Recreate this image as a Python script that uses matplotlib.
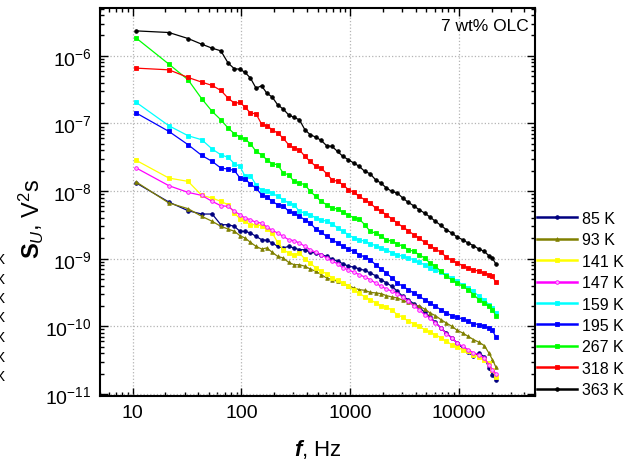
import numpy as np
import matplotlib
matplotlib.use("Agg")
import matplotlib.pyplot as plt
from matplotlib.ticker import FixedLocator, FuncFormatter, LogLocator, NullFormatter

plt.rcParams["font.family"] = ["Liberation Sans", "DejaVu Sans"]
plt.rcParams["mathtext.fontset"] = "custom"
plt.rcParams["mathtext.rm"] = "Liberation Sans"
plt.rcParams["mathtext.it"] = "Liberation Sans:italic"
plt.rcParams["mathtext.bf"] = "Liberation Sans:bold"
plt.rcParams["mathtext.bfit"] = "Liberation Sans:bold:italic"
plt.rcParams["axes.unicode_minus"] = False

# frequency grid, Hz
freq = [10.8, 21.5, 32.3, 43.1, 53.8, 64.6, 75.4, 86.1, 96.9,
        108, 121, 136, 153, 171, 192, 215, 242, 271, 304,
        341, 383, 429, 482, 541, 607, 681, 764, 857, 962,
        1079, 1211, 1359, 1524, 1710, 1919, 2153, 2416, 2711, 3042,
        3413, 3829, 4297, 4821, 5409, 6069, 6810, 7640, 8573, 9619,
        10790, 12110, 13590, 15240, 17100, 18800, 20300, 21800]

# log10 of the noise spectral density, V^2 s
log_85 = [-7.882, -8.163, -8.291, -8.340, -8.340, -8.498, -8.498, -8.522, -8.596,
          -8.596, -8.621, -8.670, -8.719, -8.729, -8.768, -8.818, -8.842, -8.818, -8.842,
          -8.867, -8.867, -8.906, -8.916, -8.941, -8.966, -9.005, -9.039, -9.074, -9.113,
          -9.123, -9.153, -9.172, -9.212, -9.251, -9.310, -9.360, -9.409, -9.483, -9.557,
          -9.606, -9.665, -9.714, -9.793, -9.862, -9.941, -10.025, -10.099, -10.172, -10.246,
          -10.320, -10.384, -10.443, -10.394, -10.453, -10.616, -10.714, -10.798]
log_93 = [-7.867, -8.177, -8.261, -8.374, -8.448, -8.522, -8.562, -8.596, -8.660,
          -8.695, -8.759, -8.818, -8.857, -8.842, -8.906, -8.966, -8.990, -9.054, -9.089,
          -9.089, -9.113, -9.153, -9.187, -9.236, -9.286, -9.310, -9.335, -9.360, -9.399,
          -9.433, -9.458, -9.468, -9.498, -9.507, -9.517, -9.547, -9.567, -9.581, -9.616,
          -9.645, -9.680, -9.704, -9.744, -9.803, -9.842, -9.901, -9.951, -10.000, -10.059,
          -10.099, -10.148, -10.197, -10.236, -10.286, -10.394, -10.493, -10.601]
log_141 = [-7.547, -7.808, -7.857, -8.064, -8.103, -8.153, -8.202, -8.325, -8.414,
           -8.448, -8.498, -8.498, -8.512, -8.562, -8.621, -8.759, -8.867, -8.916, -8.941,
           -8.916, -9.005, -9.064, -9.138, -9.187, -9.222, -9.286, -9.320, -9.360, -9.409,
           -9.468, -9.507, -9.567, -9.606, -9.655, -9.695, -9.714, -9.764, -9.828, -9.867,
           -9.926, -9.961, -10.000, -10.049, -10.089, -10.123, -10.172, -10.222, -10.271, -10.310,
           -10.345, -10.369, -10.419, -10.453, -10.502, -10.542, -10.640, -10.749]
log_147 = [-7.660, -7.921, -8.020, -8.064, -8.153, -8.217, -8.227, -8.300, -8.350,
           -8.399, -8.424, -8.463, -8.473, -8.532, -8.581, -8.621, -8.670, -8.719, -8.734,
           -8.768, -8.818, -8.867, -8.906, -8.941, -8.990, -9.039, -9.074, -9.138, -9.163,
           -9.202, -9.236, -9.271, -9.310, -9.360, -9.409, -9.448, -9.483, -9.517, -9.567,
           -9.631, -9.695, -9.754, -9.828, -9.877, -9.951, -10.025, -10.108, -10.172, -10.246,
           -10.296, -10.345, -10.394, -10.419, -10.468, -10.567, -10.640, -10.700]
log_159 = [-6.690, -7.034, -7.182, -7.241, -7.379, -7.463, -7.502, -7.596, -7.635,
           -7.783, -7.773, -7.906, -7.990, -8.005, -8.030, -8.079, -8.128, -8.177, -8.202,
           -8.300, -8.325, -8.350, -8.399, -8.424, -8.448, -8.483, -8.547, -8.596, -8.645,
           -8.695, -8.719, -8.744, -8.778, -8.808, -8.842, -8.867, -8.916, -8.941, -8.966,
           -8.990, -9.015, -9.054, -9.089, -9.138, -9.163, -9.202, -9.236, -9.286, -9.335,
           -9.384, -9.433, -9.483, -9.557, -9.606, -9.680, -9.729, -9.803]
log_195 = [-6.847, -7.118, -7.315, -7.473, -7.562, -7.660, -7.675, -7.695, -7.808,
           -7.823, -7.897, -7.956, -8.054, -8.089, -8.153, -8.202, -8.217, -8.300, -8.325,
           -8.374, -8.424, -8.473, -8.562, -8.611, -8.670, -8.719, -8.768, -8.818, -8.857,
           -8.892, -8.941, -8.975, -9.015, -9.089, -9.153, -9.212, -9.286, -9.360, -9.409,
           -9.458, -9.507, -9.557, -9.606, -9.655, -9.704, -9.754, -9.803, -9.842, -9.867,
           -9.892, -9.926, -9.961, -9.975, -10.000, -10.025, -10.059, -10.158]
log_267 = [-5.739, -6.123, -6.355, -6.635, -6.823, -6.946, -7.069, -7.153, -7.202,
           -7.232, -7.300, -7.414, -7.463, -7.537, -7.596, -7.611, -7.734, -7.759, -7.857,
           -7.882, -7.906, -8.005, -8.079, -8.153, -8.202, -8.251, -8.266, -8.315, -8.350,
           -8.399, -8.414, -8.498, -8.596, -8.621, -8.670, -8.719, -8.744, -8.778, -8.818,
           -8.867, -8.892, -8.941, -8.990, -9.064, -9.113, -9.187, -9.261, -9.310, -9.360,
           -9.409, -9.458, -9.532, -9.606, -9.655, -9.704, -9.754, -9.842]
log_318 = [-6.182, -6.207, -6.320, -6.389, -6.438, -6.512, -6.626, -6.700, -6.690,
           -6.759, -6.847, -6.857, -7.010, -7.034, -7.094, -7.143, -7.217, -7.315, -7.365,
           -7.389, -7.488, -7.562, -7.635, -7.660, -7.744, -7.833, -7.857, -7.906, -7.980,
           -8.020, -8.079, -8.128, -8.177, -8.251, -8.300, -8.350, -8.414, -8.473, -8.532,
           -8.586, -8.645, -8.695, -8.759, -8.808, -8.857, -8.906, -8.975, -9.025, -9.064,
           -9.103, -9.138, -9.163, -9.187, -9.212, -9.236, -9.261, -9.350]
log_363 = [-5.631, -5.655, -5.744, -5.828, -5.887, -5.926, -6.108, -6.192, -6.197,
           -6.246, -6.330, -6.478, -6.443, -6.552, -6.611, -6.724, -6.788, -6.872, -6.911,
           -6.946, -7.094, -7.167, -7.202, -7.251, -7.330, -7.340, -7.414, -7.488, -7.537,
           -7.586, -7.635, -7.709, -7.744, -7.833, -7.882, -7.956, -8.005, -8.030, -8.103,
           -8.167, -8.217, -8.276, -8.325, -8.384, -8.448, -8.507, -8.571, -8.621, -8.680,
           -8.719, -8.768, -8.808, -8.857, -8.892, -8.956, -8.990, -9.079]

labels = ["85 K", "93 K", "141 K", "147 K", "159 K", "195 K", "267 K", "318 K", "363 K"]
series = [log_85, log_93, log_141, log_147, log_159, log_195, log_267, log_318, log_363]
colors = ["#000080", "#808000", "#ffff00", "#ff00ff", "#00ffff", "#0000ff", "#00ff00", "#ff0000", "#000000"]
markers = ["o", "^", "s", "o", "s", "s", "s", "s", "o"]

fig = plt.figure(figsize=(6.4, 4.64), dpi=100)
ax = fig.add_axes([100 / 640, 67 / 464, 435 / 640, 388 / 464])

for lab, s, c, m in zip(labels, series, colors, markers):
    face = "#ffb0ff" if lab == "147 K" else c
    ax.plot(freq, 10 ** np.array(s), color=c, marker=m, ms=2.6, mfc=face, mec=c,
            mew=0.6, lw=0.9, label=lab)

ax.set_xscale("log")
ax.set_yscale("log")
ax.set_xlim(5, 50000)
ax.set_ylim(9.3e-12, 5.1e-6)

ax.xaxis.set_major_locator(FixedLocator([10, 100, 1000, 10000]))
ax.xaxis.set_major_formatter(FuncFormatter(lambda v, p: "%d" % v))
ax.xaxis.set_minor_locator(LogLocator(base=10, subs=np.arange(2, 10), numticks=20))
ax.xaxis.set_minor_formatter(NullFormatter())
ax.yaxis.set_major_locator(LogLocator(base=10, numticks=20))
ax.yaxis.set_minor_locator(LogLocator(base=10, subs=np.arange(2, 10), numticks=20))
ax.yaxis.set_minor_formatter(NullFormatter())

ax.tick_params(which="both", direction="in", top=True, right=True, width=1.0)
ax.tick_params(which="major", length=6, labelsize=14, pad=6)
ax.tick_params(which="minor", length=3)
for sp in ax.spines.values():
    sp.set_linewidth(1.5)

ax.grid(True, which="major", ls=":", lw=0.9, color="#b4b4b4")

ax.set_xlabel(r"$\mathbfit{f}$, Hz", fontsize=16)
ax.set_ylabel(r"$\mathbf{S}_{\mathit{U}}$, V$^2$s", fontsize=17)
ax.yaxis.set_label_coords(-0.125, 0.46)
ax.xaxis.labelpad = 11

ax.text(0.985, 0.975, "7 wt% OLC", transform=ax.transAxes, ha="right", va="top", fontsize=12.5)

leg = ax.legend(loc="upper left", bbox_to_anchor=(537 / 640, (464 - 212) / 464),
                bbox_transform=fig.transFigure, frameon=False, fontsize=11.5,
                handlelength=2.5, handletextpad=0.3, labelspacing=0.4,
                borderpad=0, borderaxespad=0)
for ln in leg.get_lines():
    ln.set_linewidth(1.8)

# clipped characters at the left border of the picture
for yy in [260, 280, 299, 318, 338, 358, 377]:
    fig.text(0, (464 - yy) / 464, "X", fontsize=11, va="center", ha="center")

fig.savefig("out.png", dpi=100)
